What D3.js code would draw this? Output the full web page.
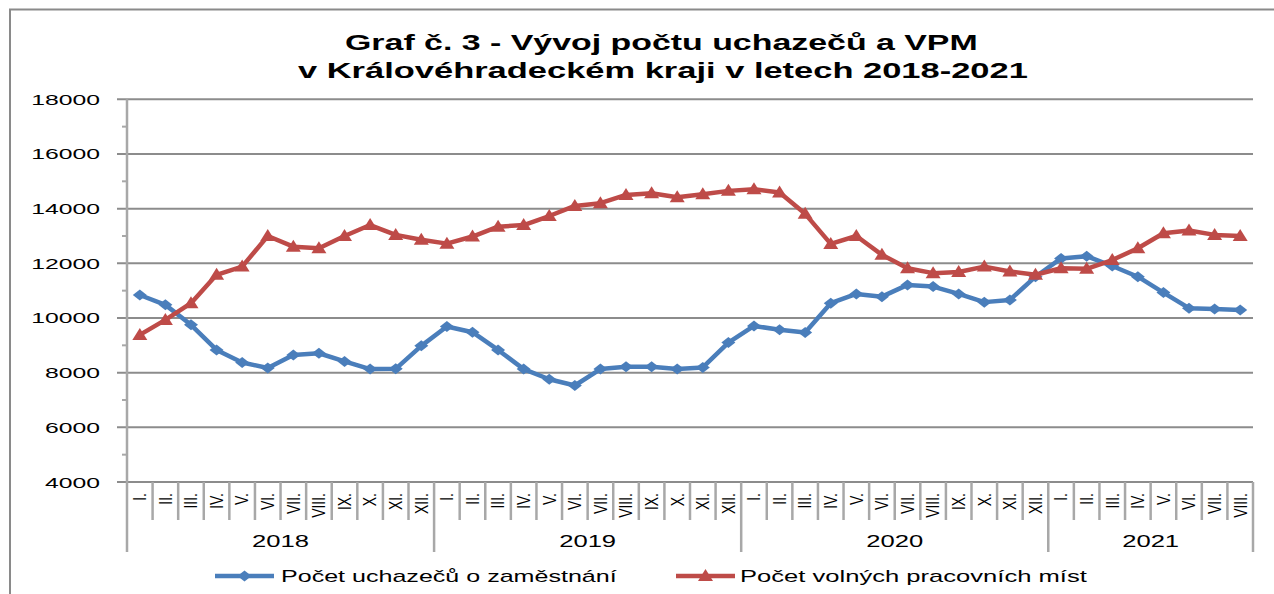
<!DOCTYPE html>
<html>
<head>
<meta charset="utf-8">
<script src="https://cdn.jsdelivr.net/npm/d3@7"></script>
<style>
  html, body { margin: 0; padding: 0; background: #fff; }
  svg { display: block; }
  text { font-family: "Liberation Sans", Arial, sans-serif; fill: #000; }
</style>
</head>
<body>
<svg id="chart" width="1274" height="594"></svg>
<script>
var TITLE_LINES = ["Graf č. 3 - Vývoj počtu uchazečů a VPM",
                   "v Královéhradeckém kraji v letech 2018-2021"],
    YEARS = ["2018", "2019", "2020", "2021"],
    MONTHS_PER_YEAR = [12, 12, 12, 8],
    MONTH_LABELS = ["I.", "II.", "III.", "IV.", "V.", "VI.", "VII.", "VIII.",
                    "IX.", "X.", "XI.", "XII."],
    Y_TICKS = [4000, 6000, 8000, 10000, 12000, 14000, 16000, 18000],
    SERIES_NAMES = ["Počet uchazečů o zaměstnání", "Počet volných pracovních míst"],
    // uchazeči o zaměstnání, I.2018 - VIII.2021
    UCHAZECI = [10840, 10480, 9750, 8830, 8370, 8170, 8650, 8710, 8410, 8130, 8140, 8980,
                9690, 9480, 8830, 8130, 7760, 7530, 8130, 8220, 8220, 8130, 8190, 9100,
                9710, 9570, 9470, 10540, 10880, 10780, 11210, 11150, 10880, 10580, 10660, 11510,
                12180, 12260, 11900, 11510, 10930, 10360, 10330, 10290],
    // volná pracovní místa
    VPM = [9380, 9930, 10540, 11580, 11880, 13000, 12610, 12550, 13000, 13400, 13040, 12860,
           12720, 12980, 13340, 13400, 13730, 14100, 14200, 14500, 14560, 14420, 14530, 14650,
           14710, 14590, 13810, 12710, 13000, 12310, 11820, 11640, 11680, 11880, 11700, 11580,
           11820, 11800, 12120, 12550, 13100, 13200, 13040, 13000];

(function () {
    "use strict";
    var BLUE = "#4a7ebb",
        RED = "#be4b48",
        GRID = "#8c8c8c",
        AXIS = "#a8a8a8",
        LEFT = 127,
        RIGHT = 1253,
        TOP = 99.3,
        BOTTOM = 482,
        svg = d3.select("#chart"),
        categories = [],
        yearSpans = [],
        x, y, bw, i, j, start = 0;

    // build month categories, keep the year groups
    for (i = 0; i < YEARS.length; i += 1) {
        for (j = 0; j < MONTHS_PER_YEAR[i]; j += 1) {
            categories.push({id: YEARS[i] + "-" + j, label: MONTH_LABELS[j]});
        }
        yearSpans.push({year: YEARS[i], from: start, to: start + MONTHS_PER_YEAR[i]});
        start += MONTHS_PER_YEAR[i];
    }

    x = d3.scaleBand().domain(categories.map(function (d) { return d.id; }))
        .range([LEFT, RIGHT]).padding(0);
    bw = x.bandwidth();
    y = d3.scaleLinear().domain([4000, 18000]).range([BOTTOM, TOP]);

    /**
     * Stretch a text horizontally so that it spans the given width.
     */
    var stretchTo = function (sel, width) {
        sel.each(function () {
            var t = d3.select(this),
                w = this.getComputedTextLength(),
                tx = +t.attr("x"), ty = +t.attr("y");
            t.attr("x", 0).attr("y", 0)
                .attr("transform", "translate(" + tx + "," + ty + ") scale(" + (width / w) + ",1)");
        });
    };

    // outer frame (only top and left edges visible)
    svg.append("path")
        .attr("d", "M10,594V9.5H1274")
        .attr("fill", "none").attr("stroke", "#8a8a8a").attr("stroke-width", 2);

    // title
    svg.selectAll(".title").data(TITLE_LINES).enter().append("text")
        .attr("class", "title")
        .attr("x", function (d, k) { return k === 0 ? 345 : 298; })
        .attr("y", function (d, k) { return k === 0 ? 50 : 78; })
        .style("font-size", "22px").style("font-weight", "bold")
        .text(function (d) { return d; })
        .each(function (d, k) { stretchTo(d3.select(this), k === 0 ? 633 : 730); });

    // gridlines + major ticks
    svg.selectAll(".grid").data(Y_TICKS).enter().append("line")
        .attr("x1", 117).attr("x2", RIGHT)
        .attr("y1", function (d) { return y(d); }).attr("y2", function (d) { return y(d); })
        .attr("stroke", GRID).attr("stroke-width", 2);

    // minor ticks
    svg.selectAll(".minor").data(d3.range(5000, 18000, 2000)).enter().append("line")
        .attr("x1", 122).attr("x2", LEFT)
        .attr("y1", function (d) { return y(d); }).attr("y2", function (d) { return y(d); })
        .attr("stroke", AXIS).attr("stroke-width", 2);

    // y axis line
    svg.append("line").attr("x1", LEFT).attr("x2", LEFT).attr("y1", TOP).attr("y2", 552)
        .attr("stroke", AXIS).attr("stroke-width", 2.5);

    // y labels
    svg.selectAll(".ylab").data(Y_TICKS).enter().append("text")
        .attr("text-anchor", "end")
        .style("font-size", "15px")
        .attr("transform", function (d) {
            return "translate(100," + (y(d) + 5.5) + ") scale(1.65,1)";
        })
        .text(function (d) { return d; });

    // category separators, longer ones between years
    var boundaries = d3.range(1, categories.length + 1);
    svg.selectAll(".sep").data(boundaries).enter().append("line")
        .attr("x1", function (d) { return LEFT + d * bw; })
        .attr("x2", function (d) { return LEFT + d * bw; })
        .attr("y1", BOTTOM)
        .attr("y2", function (d) {
            return yearSpans.some(function (s) { return s.to === d; }) ? 552 : 520;
        })
        .attr("stroke", AXIS).attr("stroke-width", 2.5);

    // month labels (rotated)
    svg.selectAll(".mlab").data(categories).enter().append("text")
        .attr("text-anchor", "end")
        .attr("dy", "0.36em")
        .style("font-size", "14px")
        .attr("transform", function (d) {
            return "translate(" + (x(d.id) + bw / 2) + ",493) scale(1.25,1) rotate(-90)";
        })
        .text(function (d) { return d.label; });

    // year labels
    svg.selectAll(".ylabel").data(yearSpans).enter().append("text")
        .attr("text-anchor", "middle")
        .style("font-size", "16px")
        .attr("transform", function (d) {
            return "translate(" + (LEFT + (d.from + d.to) / 2 * bw) + ",547) scale(1.6,1)";
        })
        .text(function (d) { return d.year; });

    var diamond = "M0,-5.5L7,0L0,5.5L-7,0Z",
        triangle = "M0,-7L7.5,5L-7.5,5Z",
        line = d3.line()
            .x(function (d, k) { return x(categories[k].id) + bw / 2; })
            .y(function (d) { return y(d); }),
        series = [
            {values: UCHAZECI, color: BLUE, marker: diamond},
            {values: VPM, color: RED, marker: triangle}
        ];

    series.forEach(function (s) {
        svg.append("path").datum(s.values)
            .attr("d", line)
            .attr("fill", "none").attr("stroke", s.color)
            .attr("stroke-width", 4.5).attr("stroke-linejoin", "round");
        svg.append("g").selectAll("path").data(s.values).enter().append("path")
            .attr("d", s.marker)
            .attr("fill", s.color)
            .attr("transform", function (d, k) {
                return "translate(" + (x(categories[k].id) + bw / 2) + "," + y(d) + ")";
            });
    });

    // legend
    var legend = [
        {name: SERIES_NAMES[0], color: BLUE, marker: diamond, x0: 215, tx: 281, w: 336},
        {name: SERIES_NAMES[1], color: RED, marker: triangle, x0: 676, tx: 740, w: 347}
    ];
    legend.forEach(function (l) {
        svg.append("line").attr("x1", l.x0).attr("x2", l.x0 + 59)
            .attr("y1", 576).attr("y2", 576)
            .attr("stroke", l.color).attr("stroke-width", 4.5);
        svg.append("path").attr("d", l.marker).attr("fill", l.color)
            .attr("transform", "translate(" + (l.x0 + 29.5) + ",576)");
        svg.append("text").attr("x", l.tx).attr("y", 582)
            .style("font-size", "16px")
            .text(l.name)
            .call(stretchTo, l.w);
    });
}());
</script>
</body>
</html>
